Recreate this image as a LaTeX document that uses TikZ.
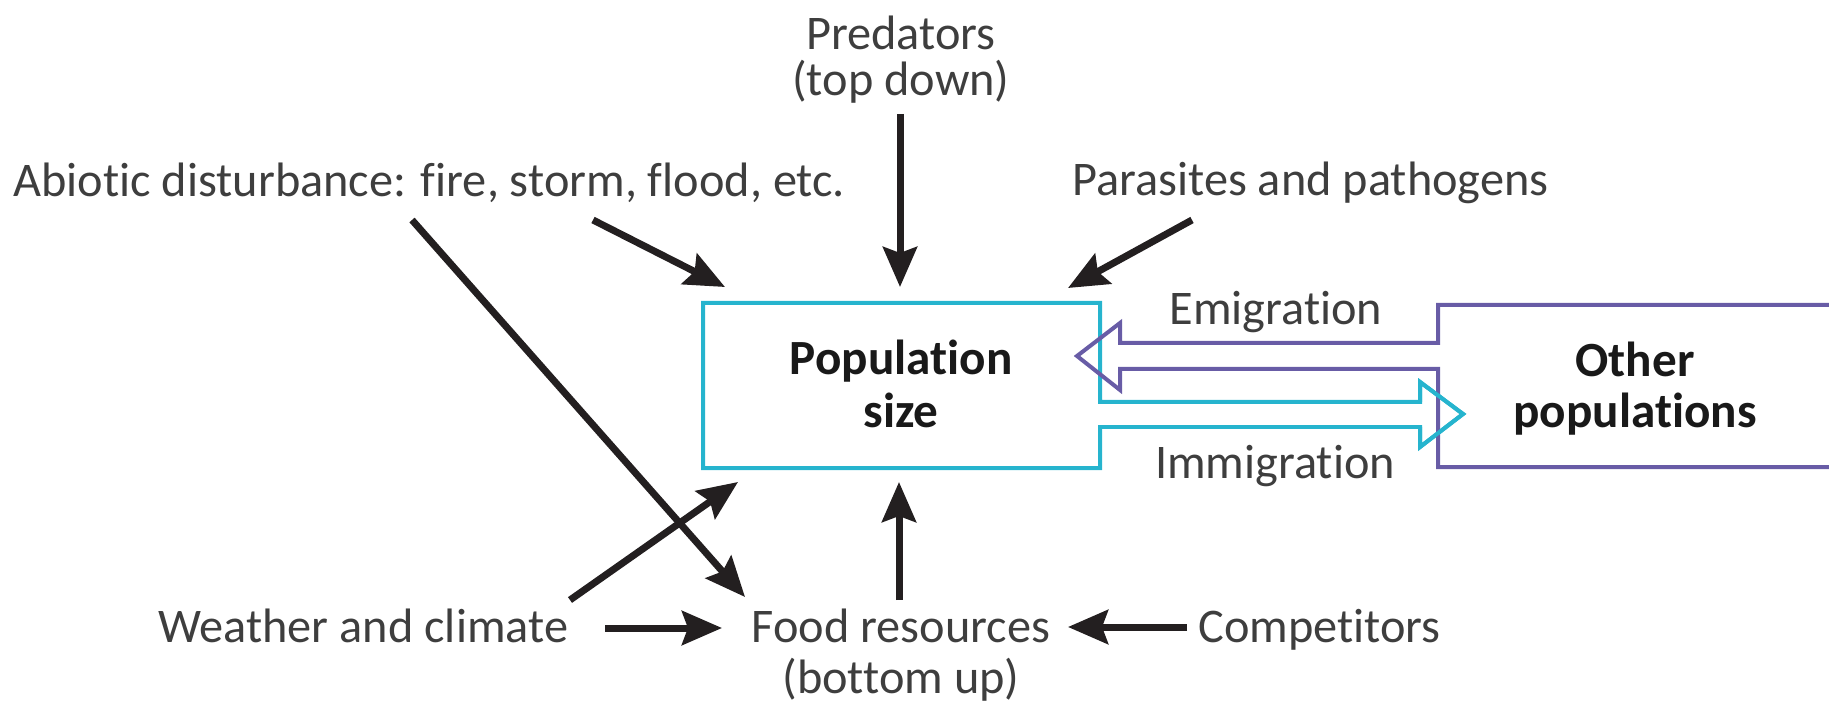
\documentclass[tikz,border=0pt]{standalone}
\usepackage{fontspec}
\setmainfont{Carlito}[Ligatures={NoCommon,NoContextual}]
\usetikzlibrary{arrows.meta}
\definecolor{popcyan}{RGB}{38,180,206}
\definecolor{otherpurple}{RGB}{104,92,166}
\definecolor{labelgrey}{RGB}{62,62,62}
\definecolor{pushblack}{RGB}{35,31,32}
\tikzset{
  factor/.style={text=labelgrey, inner sep=0pt, font=\fontsize{27.5}{32}\selectfont},
  boxlabel/.style={text=black!90, inner sep=0pt, font=\fontsize{28}{33}\selectfont\bfseries},
  push/.style={draw=pushblack, line width=0.14cm,
    -{Stealth[length=0.8cm, width=0.68cm, inset=0.12cm]}},
  outline/.style={line width=0.08cm, line join=miter}
}

\begin{document}
\begin{tikzpicture}[x=0.02cm, y=-0.02cm]
			%%%%% FRAME %%%%%
			\useasboundingbox (0,0) rectangle (1829,702);
			
			%%%%% LABELS %%%%%
			\node[factor, anchor=base west] (abio) at (13,197) {Abiotic disturbance: fire, storm, flood, etc.};
			\node[factor, anchor=base] (pred) at (901,50) {Predators};
			\node[factor, anchor=base] (predsub) at (901,96) {(top down)};
			\node[factor, anchor=base west] (para) at (1072,196) {Parasites and pathogens};
			\node[factor, anchor=base] (emig) at (1276,325) {Emigration};
			\node[factor, anchor=base] (immig) at (1275,479) {Immigration};
			\node[factor, anchor=base west] (weather) at (158,642) {Weather and climate};
			\node[factor, anchor=base] (food) at (901,642) {Food resources};
			\node[factor, anchor=base] (foodsub) at (901,693) {(bottom up)};
			\node[factor, anchor=base west] (comp) at (1198,642) {Competitors};
			
			\node[boxlabel, anchor=base] (pop) at (901,375) {Population};
			\node[boxlabel, anchor=base] (popsub) at (901,427) {size};
			\node[boxlabel, anchor=base] (other) at (1635,377) {Other};
			\node[boxlabel, anchor=base] (othersub) at (1635,427) {populations};
			
			%%%%% BOXES %%%%%
			\draw[outline, popcyan] (1100,402) -- (1100,303) -- (703,303) -- (703,468) -- (1100,468) -- (1100,427)
			  -- (1420,427) -- (1420,447) -- (1463,414) -- (1420,382) -- (1420,402) -- cycle;
			\draw[outline, otherpurple] (1840,305) -- (1438,305) -- (1438,343) -- (1120,343) -- (1120,323)
			  -- (1077,356) -- (1120,390) -- (1120,369) -- (1438,369) -- (1438,467) -- (1840,467);
			\draw[outline, popcyan] (1420,427) -- (1420,447) -- (1463,414) -- (1420,382) -- (1420,402);
			
			%%%%% ARROW ENDS %%%%%
			\coordinate (abioA) at (593,220);   \coordinate (popNW) at (725,287);
			\coordinate (abioB) at (412,220);   \coordinate (foodNW) at (745,597);
			\coordinate (predT) at (900,114);   \coordinate (popN) at (900,287);
			\coordinate (paraT) at (1192,220);  \coordinate (popNE) at (1068,288);
			\coordinate (weathA) at (570,600);  \coordinate (popSW) at (738,482);
			\coordinate (weathB) at (605,628);  \coordinate (foodW) at (722,628);
			\coordinate (foodN) at (899,600);   \coordinate (popS) at (899,482);
			\coordinate (compW) at (1187,627);  \coordinate (foodE) at (1068,627);
			
			%%%%% ARROWS %%%%%
			\draw[push] (abioA) -- (popNW);
			\draw[push] (abioB) -- (foodNW);
			\draw[push] (predT) -- (popN);
			\draw[push] (paraT) -- (popNE);
			\draw[push] (weathA) -- (popSW);
			\draw[push] (weathB) -- (foodW);
			\draw[push] (foodN) -- (popS);
			\draw[push] (compW) -- (foodE);
\end{tikzpicture}
\end{document}
